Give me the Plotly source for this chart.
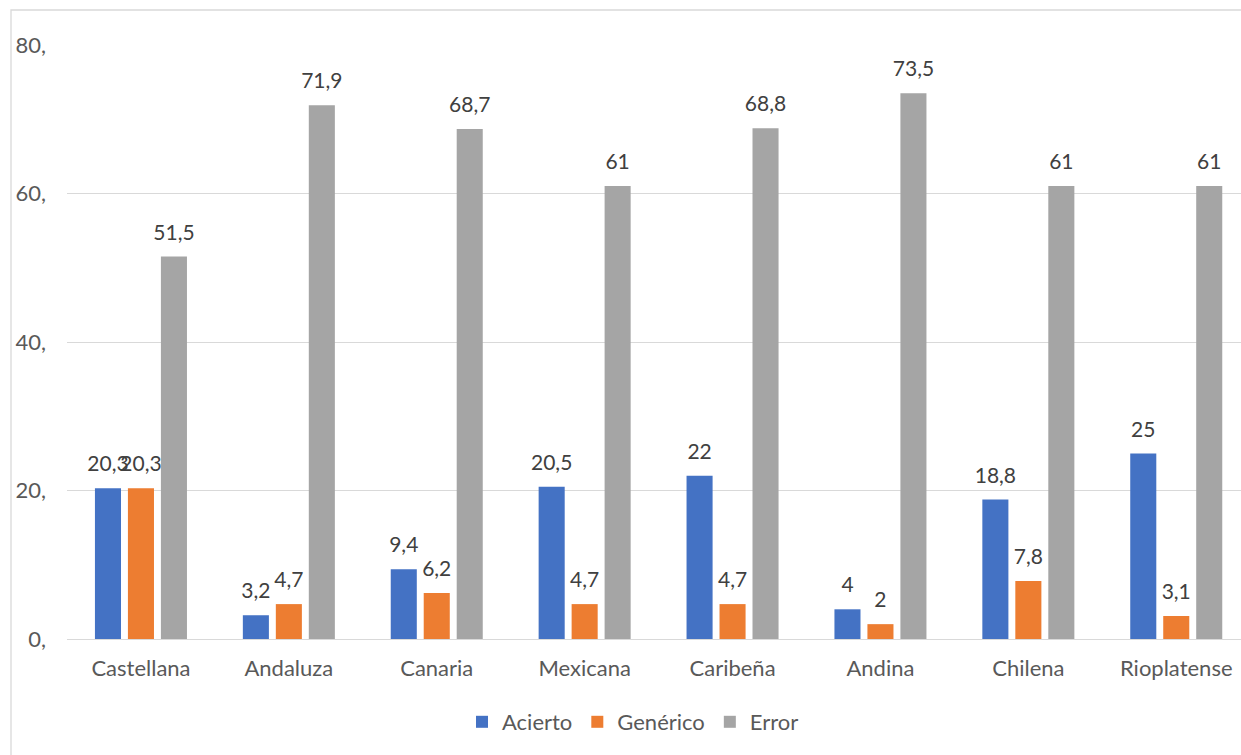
import plotly.graph_objects as go

# Variedades del español y porcentajes por tipo de respuesta
categorias = ["Castellana", "Andaluza", "Canaria", "Mexicana", "Caribeña", "Andina", "Chilena", "Rioplatense"]
acierto = [20.3, 3.2, 9.4, 20.5, 22, 4, 18.8, 25]
generico = [20.3, 4.7, 6.2, 4.7, 4.7, 2, 7.8, 3.1]
error = [51.5, 71.9, 68.7, 61, 68.8, 73.5, 61, 61]

series = [("Acierto", acierto, "#4472C4"),
          ("Genérico", generico, "#ED7D31"),
          ("Error", error, "#A5A5A5")]

tick_vals = [0, 20, 40, 60, 80]
tick_text = ["0,", "20,", "40,", "60,", "80,"]

FONT = "Lato"
W, H = 1241, 755
ML, MT, MB, MR = 67, 45, 116, 0
GAP = 0.331

fig = go.Figure()
for nombre, valores, color in series:
    fig.add_trace(go.Bar(
        x=categorias, y=valores, name=nombre, offsetgroup=nombre,
        marker=dict(color=color, line=dict(width=0)),
        hoverinfo="x+y+name",
    ))
# Etiquetas de datos sobre cada barra (puntos invisibles agrupados igual que las barras)
for nombre, valores, color in series:
    fig.add_trace(go.Scatter(
        x=categorias, y=valores, offsetgroup=nombre, mode="markers+text",
        text=valores, texttemplate="%{y}", textposition="top center",
        textfont=dict(family=FONT, size=21, color="#404040"),
        marker=dict(size=17, color="rgba(0,0,0,0)"),
        showlegend=False, hoverinfo="skip", cliponaxis=False,
    ))

plot_w = W - ML - MR
plot_h = H - MT - MB
cat_px = 147.9

fig.update_layout(
    width=W, height=H,
    margin=dict(l=ML, r=MR, t=MT, b=MB),
    paper_bgcolor="white", plot_bgcolor="white",
    separators=",.",
    barmode="group", bargap=GAP, bargroupgap=0.21,
    scattermode="group", scattergap=GAP,
    font=dict(family=FONT, size=22, color="#595959"),
    xaxis=dict(
        range=[-0.5, -0.5 + plot_w / cat_px],
        showgrid=False, showline=False, zeroline=False,
        ticks="", ticklabelstandoff=14,
        tickfont=dict(family=FONT, size=22, color="#595959"),
    ),
    yaxis=dict(
        range=[0, 80], tickvals=tick_vals, ticktext=tick_text,
        showgrid=True, gridcolor="#D9D9D9", gridwidth=1.3,
        zeroline=True, zerolinecolor="#D9D9D9", zerolinewidth=1.3,
        showline=False, ticks="", ticklabelstandoff=20,
        tickfont=dict(family=FONT, size=22, color="#595959"),
    ),
    legend=dict(
        orientation="h", x=(633 - ML) / plot_w, xanchor="center",
        y=1 - (722 - MT) / plot_h, yanchor="middle",
        bgcolor="rgba(0,0,0,0)",
        font=dict(family=FONT, size=22, color="#595959"),
        itemwidth=30, traceorder="normal",
    ),
    showlegend=True,
)

# Marco del área del gráfico
fig.add_shape(
    type="rect", xref="paper", yref="paper",
    x0=(11 - ML) / plot_w, x1=(W + 20 - ML) / plot_w,
    y0=1 - (H + 20 - MT) / plot_h, y1=1 - (10 - MT) / plot_h,
    line=dict(color="#D9D9D9", width=1.3), fillcolor="rgba(0,0,0,0)",
    layer="below",
)

fig.write_html("out.html")
